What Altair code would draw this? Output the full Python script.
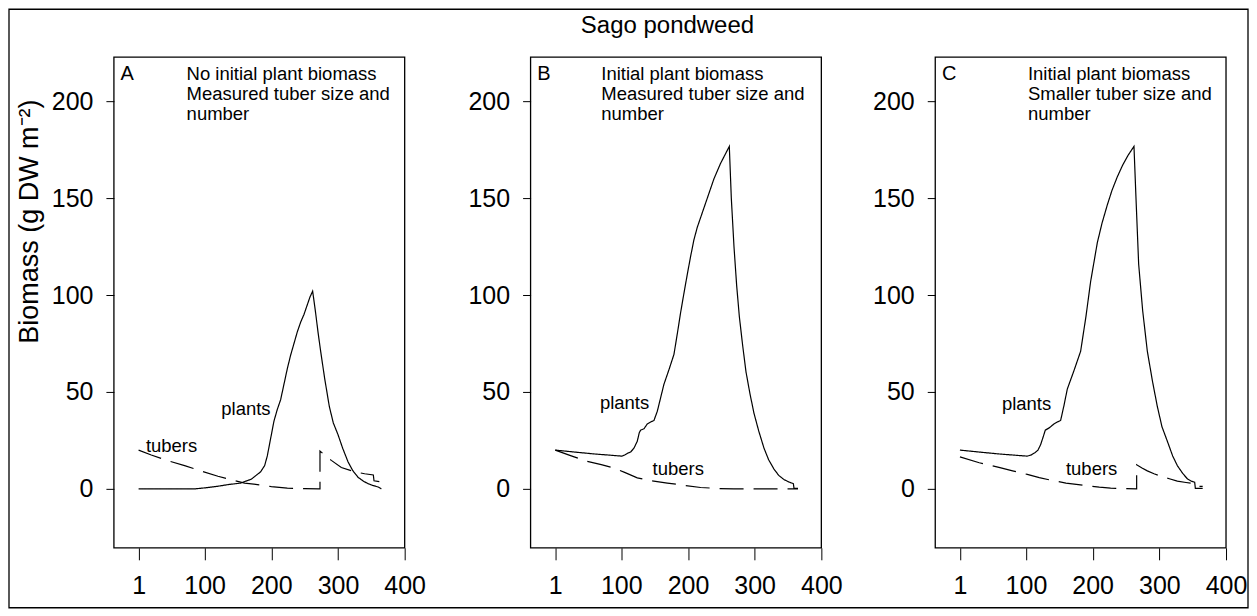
import altair as alt
import pandas as pd

# ---------------- data ----------------
days_ticks = [1, 100, 200, 300, 400]
bio_ticks = [0, 50, 100, 150, 200]

a_plants_day = [1, 40, 85, 100, 119, 135, 154, 170, 184, 190, 194, 199, 204, 209, 214, 219, 224, 229, 234, 239, 244, 249, 254, 258, 262, 266, 270, 274, 280, 287, 293, 300, 307, 315, 322, 330, 338, 345, 352, 360, 365]
a_plants_bio = [0, 0, 0, 0.5, 1.3, 2.2, 3, 5, 8.8, 12, 17, 26, 35, 41, 46, 54, 62, 69, 75, 81, 86, 90, 95, 99, 102, 92, 81, 71, 57, 42.5, 34, 28, 21, 14, 9.5, 6, 4, 2.7, 1.8, 1, 0]
a_tubers_day = [1, 20, 43, 70, 94, 120, 144, 160, 179, 200, 224, 250, 272, 273, 273, 280, 290, 305, 325, 340, 353, 354, 366]
a_tubers_bio = [20, 17.5, 14.7, 12, 9.3, 6.5, 4.3, 3, 2.2, 1.2, 0.4, 0.1, 0, 0, 19.5, 17.5, 14.7, 11, 8.8, 7.8, 7.2, 4.2, 3.5]

b_plants_day = [1, 30, 60, 90, 101, 105, 109, 114, 119, 124, 127, 129, 134, 139, 144, 149, 154, 159, 164, 172, 179, 184, 189, 194, 199, 204, 209, 214, 219, 224, 229, 234, 239, 244, 249, 255, 262, 265, 269, 273, 277, 282, 287, 293, 299, 306, 314, 321, 329, 336, 344, 351, 358, 359, 365]
b_plants_bio = [20, 19, 18, 17.2, 16.9, 17.5, 18.3, 19, 21, 24.6, 29, 30.3, 31, 33.5, 34.5, 35.3, 40, 47, 54, 62, 69.4, 80, 91, 101, 110.7, 120, 128.6, 135, 140, 145, 150, 155, 160, 164, 168, 172, 176.7, 150, 125, 105, 89, 74, 60.4, 49, 39, 30, 21, 15, 10.2, 7, 4.8, 3.6, 2.7, 0.3, 0.3]
b_tubers_day = [1, 25, 49, 70, 89, 105, 124, 145, 169, 195, 219, 245, 269, 365]
b_tubers_bio = [20, 17, 14.2, 12.5, 10.8, 8.5, 5.7, 4.2, 3, 1.8, 0.7, 0.2, 0, 0]

c_plants_day = [1, 30, 60, 90, 102, 108, 114, 118, 122, 126, 129, 135, 142, 147, 152, 157, 162, 172, 182, 190, 197, 202, 207, 214, 222, 229, 237, 245, 253, 262, 265, 269, 275, 282, 290, 297, 304, 312, 320, 327, 335, 342, 348, 353, 354, 365]
c_plants_bio = [20, 19, 18, 17.2, 16.9, 17.5, 18.8, 20, 22.8, 27, 30.3, 31.5, 33.5, 34.5, 35.3, 43, 51.5, 61, 71, 89, 107, 117, 127, 137, 146.5, 154, 161, 167, 172, 176.7, 150, 116, 92, 71, 55, 42.5, 32, 24.6, 17, 12, 8, 5.2, 4, 3.4, 0.3, 0.3]
c_tubers_day = [1, 30, 61, 80, 102, 120, 137, 160, 187, 210, 227, 250, 266, 266, 274, 282, 292, 302, 315, 327, 340, 352, 356, 365]
c_tubers_bio = [16.5, 13.5, 11, 9.3, 7.5, 5.8, 4.5, 3, 1.8, 0.9, 0.4, 0.1, 0, 12.4, 10.8, 9.3, 7.8, 6.6, 5.2, 4, 3.3, 2.7, 1.3, 1.3]

panel_letters = ["A", "B", "C"]
panel_line1 = ["No initial plant biomass", "Initial plant biomass", "Initial plant biomass"]
panel_line2 = ["Measured tuber size and", "Measured tuber size and", "Smaller tuber size and"]
panel_line3 = ["number", "number", "number"]
panel_text_x = [73, 70, 103]
plants_label_pos = [(125, 41.3), (68, 44.3), (64, 43.8)]
tubers_label_pos = [(12, 21.9), (147, 10.2), (160, 10.2)]

title_text = "Sago pondweed"
y_title = "Biomass (g DW m\u207b\u00b2)"

# ---------------- layout constants ----------------
X_DOM = [-36, 400]
Y_DOM = [-30.4, 222.7]
W, H = 291, 491
EXTRA = [12, 0, 0]          # extra layout room after a panel (A->B gap is wider)
FONT = "Liberation Sans"


def series_df(pd_day, pd_bio, td_day, td_bio):
    rows = []
    for i, (d, b) in enumerate(zip(pd_day, pd_bio)):
        rows.append({"day": d, "biomass": b, "series": "plants", "i": i})
    for i, (d, b) in enumerate(zip(td_day, td_bio)):
        rows.append({"day": d, "biomass": b, "series": "tubers", "i": i})
    return pd.DataFrame(rows)


def panel(k, df, first):
    xs = alt.Scale(domain=X_DOM, nice=False, zero=False, range=[0, W])
    ys = alt.Scale(domain=Y_DOM, nice=False, zero=False)
    x = alt.X("day:Q", scale=xs,
              axis=alt.Axis(values=days_ticks, title=None, tickSize=12, labelPadding=14,
                            labelFontSize=25, labelFont=FONT, labelColor="black",
                            tickColor="black", domain=False, grid=False,
                            labelFlush=False, labelOverlap=False))
    yaxis_kw = dict(values=bio_ticks, tickSize=8, labelPadding=13, labelFontSize=25,
                    labelFont=FONT, labelColor="black", tickColor="black",
                    domain=False, grid=False, labelFlush=False, labelOverlap=False)
    if first:
        yaxis = alt.Axis(title=y_title, titleFont=FONT, titleFontSize=27,
                         titleFontWeight="normal", titleColor="black",
                         titleX=-70, titleY=164, titleAngle=270, **yaxis_kw)
    else:
        yaxis = alt.Axis(title=None, **yaxis_kw)
    y = alt.Y("biomass:Q", scale=ys, axis=yaxis)

    lines = alt.Chart(df).mark_line(color="black", strokeWidth=1.2, clip=True).encode(
        x=x, y=y, detail="series:N", order="i:Q",
        strokeDash=alt.StrokeDash("series:N",
                                  scale=alt.Scale(domain=["plants", "tubers"],
                                                  range=[[1, 0], [24, 10]]),
                                  legend=None),
    )

    ann = pd.DataFrame({
        "x": [-26, panel_text_x[k], panel_text_x[k], panel_text_x[k],
              plants_label_pos[k][0], tubers_label_pos[k][0]],
        "y": [213.8, 213.8, 203.5, 193.2, plants_label_pos[k][1], tubers_label_pos[k][1]],
        "label": [panel_letters[k], panel_line1[k], panel_line2[k], panel_line3[k],
                  "plants", "tubers"],
        "fs": [20, 18.5, 18.5, 18.5, 18.5, 18.5],
    })
    texts = alt.Chart(ann).mark_text(align="left", baseline="middle", font=FONT,
                                     color="black").encode(
        x=alt.X("x:Q", scale=xs),
        y=alt.Y("y:Q", scale=ys),
        text="label:N",
        size=alt.Size("fs:Q", scale=None),
    )
    one = pd.DataFrame({"t": [title_text]})
    frame = alt.Chart(one).mark_rect(filled=False, stroke="black", strokeWidth=1.3).encode(
        x=alt.value(0), x2=alt.value(W), y=alt.value(0), y2=alt.value(H))
    layers = [frame, lines, texts]
    if first:
        border = alt.Chart(one).mark_rect(filled=False, stroke="black",
                                          strokeWidth=1.3).encode(
            x=alt.value(-105), x2=alt.value(1135), y=alt.value(-48), y2=alt.value(551))
        title = alt.Chart(one).mark_text(fontSize=24, font=FONT, color="black",
                                         align="center", baseline="middle").encode(
            x=alt.value(554), y=alt.value(-31), text="t:N")
        layers = [border, title] + layers
    return alt.layer(*layers).properties(width=W + EXTRA[k], height=H)


dfs = [
    series_df(a_plants_day, a_plants_bio, a_tubers_day, a_tubers_bio),
    series_df(b_plants_day, b_plants_bio, b_tubers_day, b_tubers_bio),
    series_df(c_plants_day, c_plants_bio, c_tubers_day, c_tubers_bio),
]

chart = alt.hconcat(
    panel(0, dfs[0], True), panel(1, dfs[1], False), panel(2, dfs[2], False),
    spacing=114, bounds="flush",
).properties(padding=0, background="white").configure_view(stroke=None)

chart.save("out.html", embed_options={"renderer": "svg", "actions": False})
